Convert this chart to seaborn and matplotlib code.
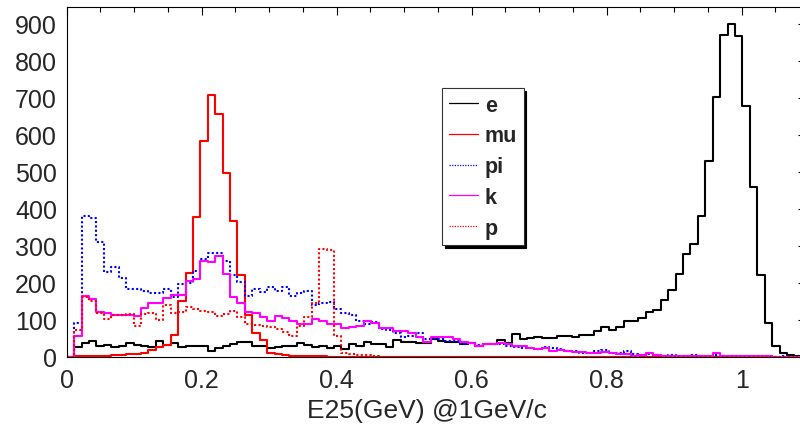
import numpy as np
import pandas as pd
import matplotlib
matplotlib.use("Agg")
import matplotlib.pyplot as plt
import seaborn as sns
from matplotlib.ticker import MultipleLocator, FuncFormatter
from matplotlib.lines import Line2D

# ---------------- data (bin contents, 100 bins from 0 to 1.1) ----------------
particles = ["e", "mu", "pi", "k", "p"]

e_counts = [0, 28, 37, 44, 31, 33, 28, 31, 37, 33,
            31, 28, 42, 33, 38, 26, 31, 31, 30, 17,
            23, 30, 35, 41, 40, 29, 31, 23, 26, 30,
            30, 37, 32, 26, 30, 24, 29, 22, 35, 31,
            41, 35, 35, 28, 46, 41, 40, 39, 37, 48,
            42, 41, 41, 35, 37, 29, 35, 35, 46, 37,
            61, 48, 51, 53, 52, 50, 58, 56, 53, 59,
            59, 69, 80, 73, 82, 98, 96, 105, 122, 128,
            155, 182, 223, 277, 305, 381, 528, 703, 869, 900,
            867, 677, 458, 221, 92, 29, 11, 5, 4, 1]

mu_counts = [0, 2, 3, 3, 3, 4, 5, 5, 7, 8,
             11, 18, 28, 32, 60, 150, 228, 377, 582, 707,
             657, 498, 366, 222, 113, 65, 45, 11, 7, 5,
             4, 3, 2, 2, 2, 1, 1, 1, 1, 1,
             1, 1, 1, 1, 1, 1, 1, 0, 0, 0,
             0, 0, 0, 0, 0, 0, 0, 0, 0, 0,
             0, 0, 0, 0, 0, 0, 0, 0, 0, 0,
             0, 0, 0, 0, 0, 0, 0, 0, 0, 0,
             0, 0, 0, 0, 0, 0, 0, 0, 0, 0,
             0, 0, 0, 0, 0, 0, 0, 0, 0, 0]

pi_counts = [0, 92, 381, 374, 311, 230, 244, 212, 183, 183,
             178, 174, 174, 183, 162, 198, 200, 232, 265, 282,
             282, 258, 222, 202, 166, 184, 176, 189, 178, 189,
             165, 174, 179, 140, 147, 148, 130, 118, 114, 98,
             89, 94, 76, 73, 64, 53, 57, 64, 49, 49,
             49, 44, 42, 35, 37, 33, 35, 35, 35, 29,
             26, 24, 24, 22, 26, 24, 22, 17, 15, 12,
             11, 17, 19, 11, 11, 17, 9, 6, 8, 6,
             4, 5, 3, 4, 5, 3, 3, 5, 2, 3,
             2, 2, 3, 2, 2, 1, 2, 1, 0, 0]

k_counts = [0, 58, 165, 157, 121, 118, 114, 114, 114, 110,
            131, 145, 145, 158, 167, 167, 204, 210, 259, 256,
            274, 224, 161, 147, 121, 118, 108, 97, 110, 105,
            96, 90, 88, 103, 97, 90, 89, 78, 80, 84,
            98, 93, 77, 78, 71, 71, 66, 55, 41, 55,
            55, 53, 49, 41, 37, 31, 35, 35, 37, 35,
            29, 29, 24, 22, 23, 17, 20, 17, 13, 13,
            11, 12, 13, 11, 8, 8, 4, 6, 11, 6,
            4, 4, 3, 3, 3, 3, 3, 10, 3, 2,
            2, 3, 2, 3, 2, 1, 1, 1, 1, 0]

p_counts = [0, 72, 161, 151, 120, 102, 114, 114, 115, 84,
            116, 119, 100, 140, 120, 122, 134, 130, 125, 121,
            112, 116, 125, 107, 89, 87, 85, 80, 76, 67,
            58, 85, 107, 145, 292, 289, 57, 12, 9, 6,
            5, 2, 1, 0, 0, 0, 0, 0, 0, 0,
            0, 0, 0, 0, 0, 0, 0, 0, 0, 0,
            0, 0, 0, 0, 0, 0, 0, 0, 0, 0,
            0, 0, 0, 0, 0, 0, 0, 0, 0, 0,
            0, 0, 0, 0, 0, 0, 0, 0, 0, 0,
            0, 0, 0, 0, 0, 0, 0, 0, 0, 0]

x_range = (0.0, 1.1)
n_bins = 100
x_tick_labels = ["0", "0.2", "0.4", "0.6", "0.8", "1"]
x_title = "E25(GeV) @1GeV/c"

# ---------------- style ----------------
sns.set_theme(style="white")
plt.rcParams['font.family'] = ['Liberation Sans', 'DejaVu Sans']

W, H = 800, 435
fig = plt.figure(figsize=(W / 100, H / 100), dpi=100)
fig.patch.set_facecolor("white")
# frame: left 66.7px, bottom 358px (from top), right edge beyond image (809px), top 8px
ax = fig.add_axes([66.7 / W, (H - 358) / H, 742.5 / W, 350 / H])
ax.set_facecolor("white")

edges = np.linspace(x_range[0], x_range[1], n_bins + 1)
centers = 0.5 * (edges[:-1] + edges[1:])

styles = {
    "e": ("#000000", "-"),
    "mu": ("#ff0000", "-"),
    "pi": ("#0000ff", (0, (1, 1.1))),
    "k": ("#ff00ff", "-"),
    "p": ("#ff0000", (0, (1, 1.1))),
}
series = {"e": e_counts, "mu": mu_counts, "pi": pi_counts, "k": k_counts, "p": p_counts}

for name in particles:
    color, ls = styles[name]
    df = pd.DataFrame({"x": centers, "w": np.asarray(series[name], dtype=float)})
    sns.histplot(data=df, x="x", weights="w", bins=list(edges), element="step",
                 fill=False, color=color, linewidth=1.5, linestyle=ls, ax=ax)

ax.set_xlim(*x_range)
ax.set_ylim(0, 945)
ax.set_ylabel("")

# axes / ticks
for sp in ax.spines.values():
    sp.set_color("black")
    sp.set_linewidth(0.8)
ax.xaxis.set_major_locator(MultipleLocator(0.2))
ax.xaxis.set_minor_locator(MultipleLocator(0.05))
ax.yaxis.set_major_locator(MultipleLocator(100))
ax.yaxis.set_minor_locator(MultipleLocator(20))


def xfmt(v, pos):
    i = int(round(v / 0.2))
    return x_tick_labels[i] if 0 <= i < len(x_tick_labels) else ""


ax.xaxis.set_major_formatter(FuncFormatter(xfmt))
ax.tick_params(which="both", direction="in", top=True, right=True, color="black", width=0.8)
ax.tick_params(axis="x", which="major", length=6, pad=8, labelsize=18)
ax.tick_params(axis="x", which="minor", length=3.6)
ax.tick_params(axis="y", which="major", length=7.7, pad=7, labelsize=18)
ax.tick_params(axis="y", which="minor", length=3.8)

ax.set_xlabel(x_title, fontsize=19)
ax.xaxis.set_label_coords((427 - 66.7) / 742.5, -0.118)

# legend
handles = [Line2D([], [], color=styles[n][0], linestyle=styles[n][1], linewidth=0.9) for n in particles]
leg = ax.legend(handles, particles, loc="upper left",
                bbox_to_anchor=(442.3 / W, 1 - 89.3 / H), bbox_transform=fig.transFigure,
                borderaxespad=0, prop={"weight": "bold", "size": 15.5},
                handlelength=1.35, handletextpad=0.32, labelspacing=0.45, borderpad=0.3,
                frameon=True, fancybox=False, framealpha=1, edgecolor="#333333",
                shadow={"color": "black", "alpha": 1})
leg.get_frame().set_linewidth(0.8)

fig.savefig("out.png", dpi=100, facecolor="white")
